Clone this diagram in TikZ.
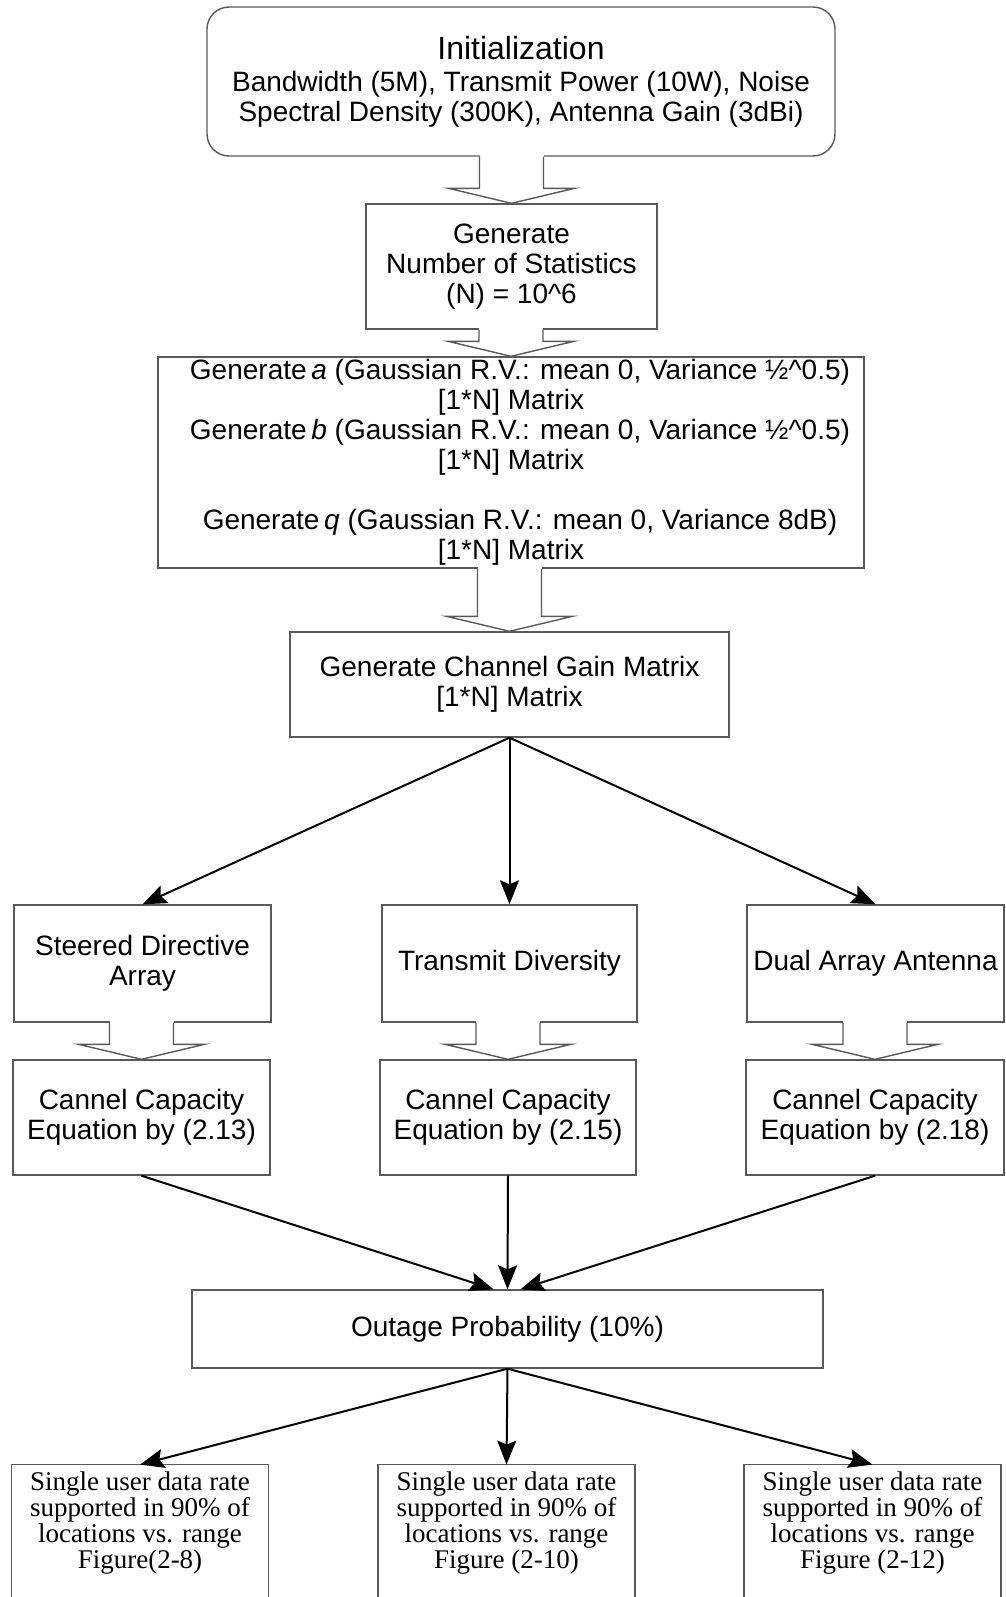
\documentclass[tikz,border=0pt]{standalone}
\usepackage{fontspec}
\setmainfont{Liberation Sans}
\newfontfamily\timesfont{Liberation Serif}
\usetikzlibrary{calc,arrows.meta}

\begin{document}
\begin{tikzpicture}[x=0.5pt,y=-0.5pt,
    edge/.style={draw=black!65,line width=0.7pt},
    box/.style={edge,rectangle,align=center,inner sep=0pt,
                font=\fontsize{14}{15}\selectfont},
    figbox/.style={rectangle,align=center,inner sep=0pt,minimum width=128pt,minimum height=58pt,
                   font=\timesfont\fontsize{13.5}{13}\selectfont},
    flow/.style={line width=1pt,-{Stealth[length=12pt,width=9.5pt,inset=2pt]}}]
    \def\shaft{32}
    \def\headw{63}
    \def\headl{15}
    \useasboundingbox (0,0) rectangle (1006,1597);
    % Set-up steps
    \node[box,rounded corners=11pt,minimum width=314pt,minimum height=74.5pt] (init) at (521,81.5)
        {{\fontsize{16}{17}\selectfont Initialization}\\[1pt]
         Bandwidth (5M), Transmit Power (10W), Noise\\
         Spectral Density (300K), Antenna Gain (3dBi)};
    \node[box,minimum width=145.5pt,minimum height=62.5pt] (gen) at (511.5,266.5)
        {Generate\\Number of Statistics\\(N) = 10\textasciicircum6};
    \node[box,minimum width=353pt,minimum height=105.5pt] (rv) at (511,462.5)
        {\hspace*{9pt}Generate\,\textit{a} (Gaussian R.V.: mean 0, Variance ½\textasciicircum0.5)\\{}[1*N] Matrix\\
         \hspace*{9pt}Generate\,\textit{b} (Gaussian R.V.: mean 0, Variance ½\textasciicircum0.5)\\{}[1*N] Matrix\\[15pt]
         \hspace*{9pt}Generate\,\textit{q} (Gaussian R.V.: mean 0, Variance 8dB)\\{}[1*N] Matrix};
    \node[box,minimum width=219.5pt,minimum height=52.5pt] (chg) at (509.5,684.5)
        {Generate Channel Gain Matrix\\{}[1*N] Matrix};
    % Antenna schemes
    \node[box,minimum width=128.5pt,minimum height=58.5pt] (sda) at (142.5,963.5) {Steered Directive\\Array};
    \node[box,minimum width=127.5pt,minimum height=58.5pt] (txd) at (509.5,963.5) {Transmit Diversity};
    \node[box,minimum width=128.5pt,minimum height=58.5pt] (daa) at (875.5,963.5) {Dual Array Antenna};
    % Capacity equations
    \node[box,minimum width=128.5pt,minimum height=57.5pt] (capa) at (141.5,1117.5) {Cannel Capacity\\Equation by (2.13)};
    \node[box,minimum width=128pt,minimum height=57.5pt] (capb) at (508,1117.5) {Cannel Capacity\\Equation by (2.15)};
    \node[box,minimum width=129pt,minimum height=57.5pt] (capc) at (875,1117.5) {Cannel Capacity\\Equation by (2.18)};
    \node[box,minimum width=315.5pt,minimum height=39pt] (out) at (507.5,1329) {Outage Probability (10\%)};
    % Result figures (boxes run off the bottom edge)
    \node[figbox] (figa) at (140,1523) {Single user data rate\\supported in 90\% of\\locations vs. range\\Figure(2-8)};
    \node[figbox] (figb) at (506.5,1523) {Single user data rate\\supported in 90\% of\\locations vs. range\\Figure (2-10)};
    \node[figbox] (figc) at (872.5,1523) {Single user data rate\\supported in 90\% of\\locations vs. range\\Figure (2-12)};
    \foreach \t in {figa,figb,figc} {
        \draw[edge] ($(\t.south west)+(0,40)$) |- (\t.north east) -- ($(\t.south east)+(0,40)$);
    }
    % Hollow block arrows
    \foreach \a/\b in {init/gen, gen/rv, rv/chg, sda/capa, txd/capb, daa/capc} {
        \fill[white] ($(\a.south -| \b.north)+(-\shaft,-2)$) -- ($(\b.north)+(-\shaft,-\headl)$) --
            ($(\b.north)+(\shaft,-\headl)$) -- ($(\a.south -| \b.north)+(\shaft,-2)$) -- cycle;
        \draw[edge] ($(\a.south -| \b.north)+(-\shaft,0)$) --
            ($(\b.north)+(-\shaft,-\headl)$) -- ($(\b.north)+(-\headw,-\headl)$) -- (\b.north) --
            ($(\b.north)+(\headw,-\headl)$) -- ($(\b.north)+(\shaft,-\headl)$) --
            ($(\a.south -| \b.north)+(\shaft,0)$);
    }
    % Fan out and back in
    \foreach \t in {sda,txd,daa} {
        \draw[flow] (chg.south) -- (\t.north);
    }
    \coordinate (outL) at ($(out.north)+(-14,0)$);
    \coordinate (outR) at ($(out.north)+(13,0)$);
    \draw[flow] (capa.south) -- (outL);
    \draw[flow] (capb.south) -- (out.north);
    \draw[flow] (capc.south) -- (outR);
    \foreach \t in {figa,figb,figc} {
        \draw[flow] (out.south) -- (\t.north);
    }
\end{tikzpicture}
\end{document}
